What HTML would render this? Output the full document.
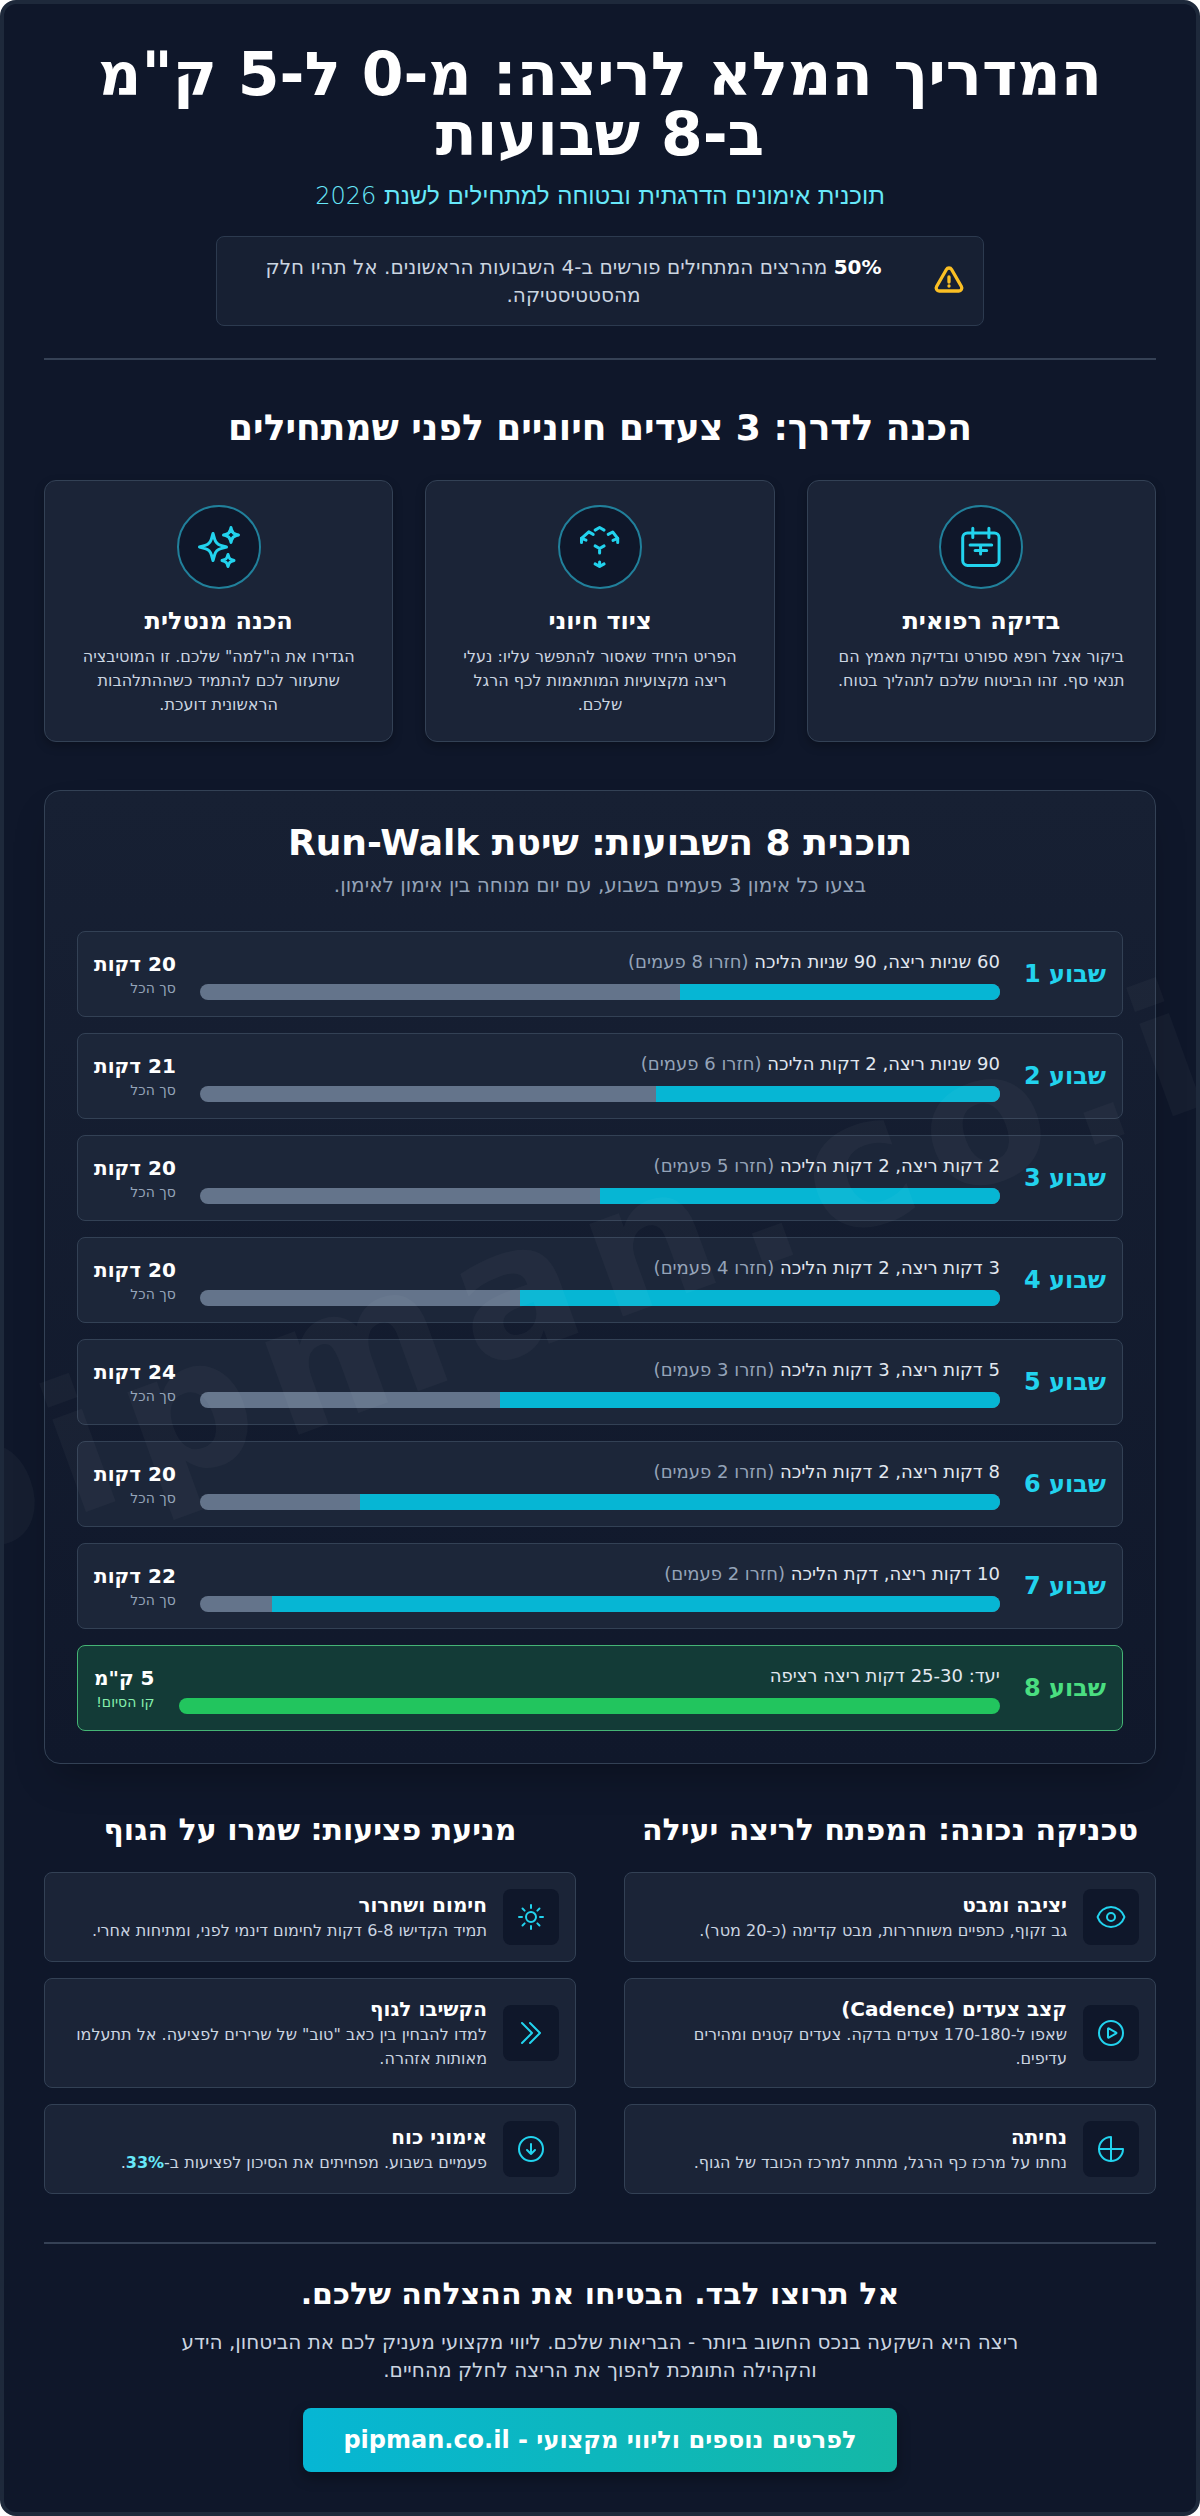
<!DOCTYPE html>
<html lang="he" dir="rtl">
<head>
<meta charset="utf-8">
<title>המדריך המלא לריצה</title>
<style>
*{box-sizing:border-box;margin:0;padding:0}
html,body{background:#fff}
body{font-family:"DejaVu Sans","Liberation Sans",sans-serif;color:#fff;width:1200px}
.wrap{position:relative;width:1200px;border:4px solid #1e293b;border-radius:16px;background:#0f172a;padding:40px;overflow:hidden}
.wm{position:absolute;left:596px;top:1255px;transform:translate(-50%,-50%) rotate(-20deg);font-size:180px;line-height:1;letter-spacing:.1em;font-weight:700;color:rgba(255,255,255,.03);white-space:nowrap;pointer-events:none;direction:ltr;z-index:5}
h1{font-size:60px;line-height:60px;font-weight:700;text-align:center}
.sub{font-size:24px;font-weight:300;color:#67e8f9;text-align:center;margin-top:16px;line-height:32px}
.alert{width:768px;margin:24px auto 0;background:#172033;border:1px solid #2c3a4f;border-radius:8px;padding:16px 18px;display:flex;align-items:center;gap:21px;font-size:20px;line-height:28px;color:#cbd5e1;text-align:center}
.alert b{color:#fff}
.alert p{flex:1}
hr{border:0;height:2px;background:#354155;margin:32px 0 0}
h2{font-weight:700;text-align:center}
.s2 h2{font-size:36px;line-height:40px;margin-top:48px}
.cards{display:flex;gap:32px;margin-top:32px}
.card{flex:1;background:#1b2437;border:1px solid #334155;border-radius:12px;padding:24px 24px;text-align:center;height:262px;box-shadow:0 4px 10px rgba(0,0,0,.25)}
.circ{width:84px;height:84px;border-radius:50%;background:#0f172a;border:2px solid #21809b;margin:0 auto;display:flex;align-items:center;justify-content:center}
.card h3{font-size:24px;line-height:32px;margin-top:16px}
.card p{font-size:16px;line-height:24px;color:#cbd5e1;margin-top:8px}
.plan{margin-top:48px;background:linear-gradient(180deg,#172033,#10182b);border:1px solid #334155;box-shadow:0 20px 40px -12px rgba(0,0,0,.3);border-radius:16px;padding:32px;height:974px}
.plan h2{font-size:36px;line-height:40px}
.plan .ps{font-size:20px;color:#94a3b8;text-align:center;line-height:28px;margin-top:8px}
.rows{margin-top:32px}
.row{height:86px;background:#1c2639;border:1px solid #334155;border-radius:8px;margin-bottom:16px;display:flex;align-items:center;padding:0 16px;gap:24px}
.wk{font-size:24px;font-weight:700;color:#22d3ee;white-space:nowrap}
.mid{flex:1}
.mid .t{font-size:18px;line-height:28px;color:#e2e8f0}
.mid .t span{color:#94a3b8}
.bar{height:16px;border-radius:8px;background:#64748b;margin-top:8px;overflow:hidden}
.bar i{display:block;height:100%;background:#06b6d4}
.tot b{display:block;font-size:20px;line-height:28px}
.tot small{display:block;font-size:14px;color:#94a3b8;line-height:20px}
.row.g{background:#133b37;border-color:#45b575}
.row.g .wk{color:#4ade80}
.row.g .bar i{background:#22c55e}
.row.g small{color:#86efac}
.two{display:flex;gap:48px;margin-top:48px}
.col{flex:1}
.col h2{font-size:30px;line-height:36px;margin-bottom:24px}
.it{background:#1b2437;border:1px solid #334155;border-radius:8px;padding:16px;display:flex;gap:16px;align-items:center;margin-top:16px}
.ic{width:56px;height:56px;border-radius:8px;background:#0f172a;flex:none;display:flex;align-items:center;justify-content:center}
.it h4{font-size:20px;line-height:28px}
.it p{font-size:16px;line-height:24px;color:#cbd5e1}
.it p b{color:#67e8f9}
.foot{text-align:center}
.foot h2{font-size:30px;line-height:36px;margin-top:32px}
.foot p{font-size:20px;line-height:28px;color:#cbd5e1;width:896px;margin:16px auto 0}
.btn{display:block;width:594px;height:64px;line-height:64px;margin:24px auto 0;border-radius:8px;background:linear-gradient(90deg,#06b6d4,#14b8a6);font-size:24px;font-weight:700;color:#fff;box-shadow:0 6px 14px rgba(0,0,0,.3)}
svg{display:block}
</style>
</head>
<body>
<div class="wrap">
<div class="wm">pipman.co.il</div>
<h1>המדריך המלא לריצה: מ-0 ל-5 ק"מ<br>ב-8 שבועות</h1>
<div class="sub">תוכנית אימונים הדרגתית ובטוחה למתחילים לשנת 2026</div>
<div class="alert"><svg width="32" height="32" viewBox="0 0 24 24" fill="none" stroke="#fbbf24" stroke-width="2.5" stroke-linecap="round" stroke-linejoin="round"><path d="M12 9v3.750m-9.303 3.376c-.866 1.500.217 3.374 1.948 3.374h14.710c1.730 0 2.813-1.874 1.948-3.374L13.949 3.378c-.866-1.500-3.032-1.500-3.898 0L2.697 16.126Z"/><path d="M12 15.750h.008v.008H12v-.008Z"/></svg><p><b>50%</b> מהרצים המתחילים פורשים ב-4 השבועות הראשונים. אל תהיו חלק מהסטטיסטיקה.</p></div>
<hr>
<div class="s2">
<h2>הכנה לדרך: 3 צעדים חיוניים לפני שמתחילים</h2>
<div class="cards">
<div class="card"><div class="circ"><svg width="48" height="48" viewBox="0 0 24 24" fill="none" stroke="#22d3ee" stroke-width="1.5" stroke-linecap="round" stroke-linejoin="round"><rect x="2.85" y="5" width="18.2" height="16.2" rx="2.4"/><path d="M7.9 2.6v4.6M15.95 2.600v4.6M6.55 11h10.8M9.05 13.7h5.8M11.8 11v4.5"/></svg></div><h3>בדיקה רפואית</h3><p>ביקור אצל רופא ספורט ובדיקת מאמץ הם תנאי סף. זהו הביטוח שלכם לתהליך בטוח.</p></div>
<div class="card"><div class="circ"><svg width="48" height="48" viewBox="0 0 24 24" fill="none" stroke="#22d3ee" stroke-width="1.5" stroke-linecap="round" stroke-linejoin="round"><path d="M9.55 3.56 11.8 2.25 14.05 3.56"/><path d="M2.750 9.7V7.700L6.4 4.45 8.600 5.700"/><path d="M2.750 7.700 5 8.600"/><path d="M20.85 9.7V7.700L18.35 4.5 16.100 5.700"/><path d="M20.85 7.700 18.5 8.700"/><path d="M9.55 11.440 11.8 12.75 14.05 11.440M11.8 12.75V15"/><path d="M9.55 20.440 11.8 21.75 14.05 20.440M11.8 19.5v2.25"/></svg></div><h3>ציוד חיוני</h3><p>הפריט היחיד שאסור להתפשר עליו: נעלי ריצה מקצועיות המותאמות לכף הרגל שלכם.</p></div>
<div class="card"><div class="circ"><svg width="48" height="48" viewBox="0 0 24 24" fill="none" stroke="#22d3ee" stroke-width="1.5" stroke-linecap="round" stroke-linejoin="round"><path d="M9.813 15.904 9 18.75l-.813-2.846a4.5 4.5 0 0 0-3.09-3.09L2.25 12l2.846-.813a4.5 4.5 0 0 0 3.09-3.09L9 5.25l.813 2.846a4.5 4.5 0 0 0 3.09 3.09L15.75 12l-2.846.813a4.5 4.5 0 0 0-3.09 3.09Z"/><path d="M18.259 8.715 18 9.75l-.259-1.035a3.375 3.375 0 0 0-2.455-2.456L14.25 6l1.036-.259a3.375 3.375 0 0 0 2.455-2.456L18 2.25l.259 1.035a3.375 3.375 0 0 0 2.456 2.456L21.75 6l-1.035.259a3.375 3.375 0 0 0-2.456 2.456Z"/><path d="M16.894 20.567 16.5 21.75l-.394-1.183a2.25 2.25 0 0 0-1.423-1.423L13.5 18.75l1.183-.394a2.25 2.25 0 0 0 1.423-1.423l.394-1.183.394 1.183a2.25 2.25 0 0 0 1.423 1.423l1.183.394-1.183.394a2.25 2.25 0 0 0-1.423 1.423Z"/></svg></div><h3>הכנה מנטלית</h3><p>הגדירו את ה"למה" שלכם. זו המוטיבציה שתעזור לכם להתמיד כשההתלהבות הראשונית דועכת.</p></div>
</div>
</div>
<div class="plan">
<h2>תוכנית 8 השבועות: שיטת Run-Walk</h2>
<div class="ps">בצעו כל אימון 3 פעמים בשבוע, עם יום מנוחה בין אימון לאימון.</div>
<div class="rows">
<div class="row"><div class="wk">שבוע 1</div><div class="mid"><div class="t">60 שניות ריצה, 90 שניות הליכה <span>(חזרו 8 פעמים)</span></div><div class="bar"><i style="width:40%"></i></div></div><div class="tot"><b>20 דקות</b><small>סך הכל</small></div></div>
<div class="row"><div class="wk">שבוע 2</div><div class="mid"><div class="t">90 שניות ריצה, 2 דקות הליכה <span>(חזרו 6 פעמים)</span></div><div class="bar"><i style="width:43%"></i></div></div><div class="tot"><b>21 דקות</b><small>סך הכל</small></div></div>
<div class="row"><div class="wk">שבוע 3</div><div class="mid"><div class="t">2 דקות ריצה, 2 דקות הליכה <span>(חזרו 5 פעמים)</span></div><div class="bar"><i style="width:50%"></i></div></div><div class="tot"><b>20 דקות</b><small>סך הכל</small></div></div>
<div class="row"><div class="wk">שבוע 4</div><div class="mid"><div class="t">3 דקות ריצה, 2 דקות הליכה <span>(חזרו 4 פעמים)</span></div><div class="bar"><i style="width:60%"></i></div></div><div class="tot"><b>20 דקות</b><small>סך הכל</small></div></div>
<div class="row"><div class="wk">שבוע 5</div><div class="mid"><div class="t">5 דקות ריצה, 3 דקות הליכה <span>(חזרו 3 פעמים)</span></div><div class="bar"><i style="width:62.5%"></i></div></div><div class="tot"><b>24 דקות</b><small>סך הכל</small></div></div>
<div class="row"><div class="wk">שבוע 6</div><div class="mid"><div class="t">8 דקות ריצה, 2 דקות הליכה <span>(חזרו 2 פעמים)</span></div><div class="bar"><i style="width:80%"></i></div></div><div class="tot"><b>20 דקות</b><small>סך הכל</small></div></div>
<div class="row"><div class="wk">שבוע 7</div><div class="mid"><div class="t">10 דקות ריצה, דקת הליכה <span>(חזרו 2 פעמים)</span></div><div class="bar"><i style="width:91%"></i></div></div><div class="tot"><b>22 דקות</b><small>סך הכל</small></div></div>
<div class="row g"><div class="wk">שבוע 8</div><div class="mid"><div class="t">יעד: 25-30 דקות ריצה רציפה</div><div class="bar"><i style="width:100%"></i></div></div><div class="tot"><b>5 ק"מ</b><small>קו הסיום!</small></div></div>
</div>
</div>
<div class="two">
<div class="col">
<h2>טכניקה נכונה: המפתח לריצה יעילה</h2>
<div class="it"><div class="ic"><svg width="32" height="32" viewBox="0 0 24 24" fill="none" stroke="#22d3ee" stroke-width="1.5" stroke-linecap="round" stroke-linejoin="round"><path d="M2.036 12.322a1.012 1.012 0 0 1 0-.639C3.423 7.51 7.36 4.5 12 4.5c4.638 0 8.573 3.007 9.963 7.178.07.207.07.431 0 .639C20.577 16.49 16.64 19.5 12 19.5c-4.638 0-8.573-3.007-9.963-7.178Z"/><path d="M15 12a3 3 0 1 1-6 0 3 3 0 0 1 6 0Z"/></svg></div><div><h4>יציבה ומבט</h4><p>גב זקוף, כתפיים משוחררות, מבט קדימה (כ-20 מטר).</p></div></div>
<div class="it"><div class="ic"><svg width="32" height="32" viewBox="0 0 24 24" fill="none" stroke="#22d3ee" stroke-width="1.5" stroke-linecap="round" stroke-linejoin="round"><path d="M21 12a9 9 0 1 1-18 0 9 9 0 0 1 18 0Z"/><path d="M15.91 11.672a.375.375 0 0 1 0 .656l-5.603 3.113a.375.375 0 0 1-.557-.328V8.887c0-.286.307-.466.557-.327l5.603 3.112Z"/></svg></div><div><h4>קצב צעדים (Cadence)</h4><p>שאפו ל-170-180 צעדים בדקה. צעדים קטנים ומהירים עדיפים.</p></div></div>
<div class="it"><div class="ic"><svg width="32" height="32" viewBox="0 0 24 24" fill="none" stroke="#22d3ee" stroke-width="1.5" stroke-linecap="round" stroke-linejoin="round"><path d="M12 3a9 9 0 1 0 9 9h-9V3Z"/><path d="M12 12v9M3 12h9"/></svg></div><div><h4>נחיתה</h4><p>נחתו על מרכז כף הרגל, מתחת למרכז הכובד של הגוף.</p></div></div>
</div>
<div class="col">
<h2>מניעת פציעות: שמרו על הגוף</h2>
<div class="it"><div class="ic"><svg width="32" height="32" viewBox="0 0 24 24" fill="none" stroke="#22d3ee" stroke-width="1.5" stroke-linecap="round" stroke-linejoin="round"><path d="M12 3v2.25m6.364.386-1.591 1.591M21 12h-2.25m-.386 6.364-1.591-1.591M12 18.750V21m-4.773-4.227-1.591 1.591M5.250 12H3m4.227-4.773L5.636 5.636M15.750 12a3.750 3.750 0 1 1-7.500 0 3.750 3.750 0 0 1 7.500 0Z"/></svg></div><div><h4>חימום ושחרור</h4><p>תמיד הקדישו 6-8 דקות לחימום דינמי לפני, ומתיחות אחרי.</p></div></div>
<div class="it"><div class="ic"><svg width="32" height="32" viewBox="0 0 24 24" fill="none" stroke="#22d3ee" stroke-width="1.5" stroke-linecap="round" stroke-linejoin="round"><path d="m11.250 4.500 7.500 7.500-7.500 7.500m-6-15 7.500 7.500-7.500 7.500"/></svg></div><div><h4>הקשיבו לגוף</h4><p>למדו להבחין בין כאב "טוב" של שרירים לפציעה. אל תתעלמו מאותות אזהרה.</p></div></div>
<div class="it"><div class="ic"><svg width="32" height="32" viewBox="0 0 24 24" fill="none" stroke="#22d3ee" stroke-width="1.5" stroke-linecap="round" stroke-linejoin="round"><path d="m9 12.750 3 3m0 0 3-3m-3 3v-7.500M21 12a9 9 0 1 1-18 0 9 9 0 0 1 18 0Z"/></svg></div><div><h4>אימוני כוח</h4><p>פעמיים בשבוע. מפחיתים את הסיכון לפציעות ב-<b>33%</b>.</p></div></div>
</div>
</div>
<div class="foot">
<hr style="margin-top:48px">
<h2>אל תרוצו לבד. הבטיחו את ההצלחה שלכם.</h2>
<p>ריצה היא השקעה בנכס החשוב ביותר - הבריאות שלכם. ליווי מקצועי מעניק לכם את הביטחון, הידע והקהילה התומכת להפוך את הריצה לחלק מהחיים.</p>
<div class="btn">לפרטים נוספים וליווי מקצועי - pipman.co.il</div>
</div>
</div>
</body>
</html>
